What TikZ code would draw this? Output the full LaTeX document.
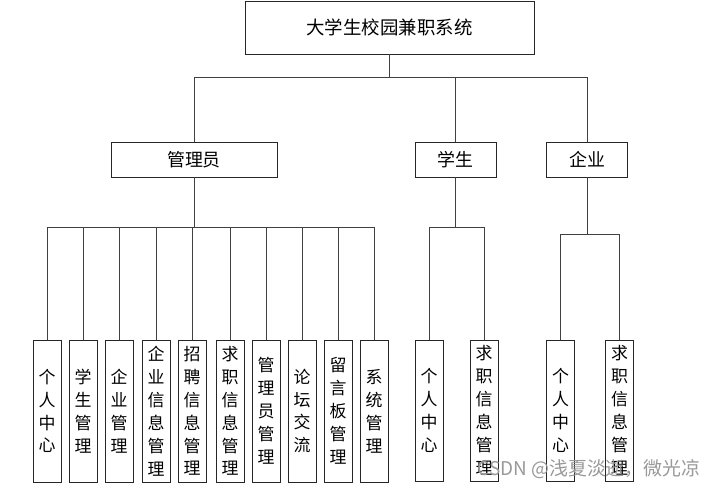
\documentclass[tikz,border=0pt]{standalone}
\usepackage{fontspec}
\newfontfamily\cjk{Noto Sans CJK SC}
\begin{document}
\begin{tikzpicture}[x=1bp,y=-1bp,
  box/.style={draw=black!85,line width=0.9bp,fill=white,inner sep=0pt,font=\cjk\fontsize{18}{22}\selectfont},
  leaf/.style={draw=black!85,line width=0.9bp,fill=white,inner sep=0pt,minimum width=28bp,minimum height=142bp,align=center,font=\cjk\fontsize{17}{23}\selectfont},
  conn/.style={draw=black!75,line width=0.9bp}]
\useasboundingbox (0,0) rectangle (720,490);
% root
\node[box,minimum width=289bp,minimum height=53bp,font=\cjk\fontsize{18.5}{22}\selectfont] (root) at (389.5,27.5) {大学生校园兼职系统};
% level 2
\node[box,minimum width=166bp,minimum height=35bp] (adm) at (194,159.5) {管理员};
\node[box,minimum width=81bp,minimum height=35bp] (stu) at (455.5,159.5) {学生};
\node[box,minimum width=81bp,minimum height=35bp] (ent) at (587,159.5) {企业};
% admin leaves
\node[leaf] (a1) at (47,411) {个\\人\\中\\心};
\node[leaf] (a2) at (83,411) {学\\生\\管\\理};
\node[leaf] (a3) at (119,411) {企\\业\\管\\理};
\node[leaf] (a4) at (156,411) {企\\业\\信\\息\\管\\理};
\node[leaf] (a5) at (192,411) {招\\聘\\信\\息\\管\\理};
\node[leaf] (a6) at (230,411) {求\\职\\信\\息\\管\\理};
\node[leaf] (a7) at (266,411) {管\\理\\员\\管\\理};
\node[leaf] (a8) at (302,411) {论\\坛\\交\\流};
\node[leaf] (a9) at (338,411) {留\\言\\板\\管\\理};
\node[leaf] (a10) at (374,411) {系\\统\\管\\理};
% student leaves
\node[leaf,minimum height=141bp] (s1) at (429,410.5) {个\\人\\中\\心};
\node[leaf,minimum height=141bp] (s2) at (484,410.5) {求\\职\\信\\息\\管\\理};
% enterprise leaves
\node[leaf,minimum height=141bp] (e1) at (560.5,410.5) {个\\人\\中\\心};
\node[leaf,minimum height=141bp] (e2) at (619.5,410.5) {求\\职\\信\\息\\管\\理};
% junctions
\coordinate (bus0) at (389.5,77);
\coordinate (busA) at (194,227.5);
\coordinate (busS) at (455.5,227.5);
\coordinate (busE) at (587,234);
% connectors
\draw[conn] (root.south) -- (bus0);
\draw[conn] (bus0) -| (adm.north);
\draw[conn] (bus0) -| (stu.north);
\draw[conn] (bus0) -| (ent.north);
\draw[conn] (adm.south) -- (busA);
\foreach \n in {a1,a2,a3,a4,a5,a6,a7,a8,a9,a10} {\draw[conn] (busA) -| (\n.north);}
\draw[conn] (stu.south) -- (busS);
\foreach \n in {s1,s2} {\draw[conn] (busS) -| (\n.north);}
\draw[conn] (ent.south) -- (busE);
\foreach \n in {e1,e2} {\draw[conn] (busE) -| (\n.north);}
% watermark
\node[inner sep=0pt,text=black!40,font=\cjk\fontsize{19}{22}\selectfont] (wm) at (589,469) {CSDN @浅夏淡逝，微光凉};
\end{tikzpicture}
\end{document}
